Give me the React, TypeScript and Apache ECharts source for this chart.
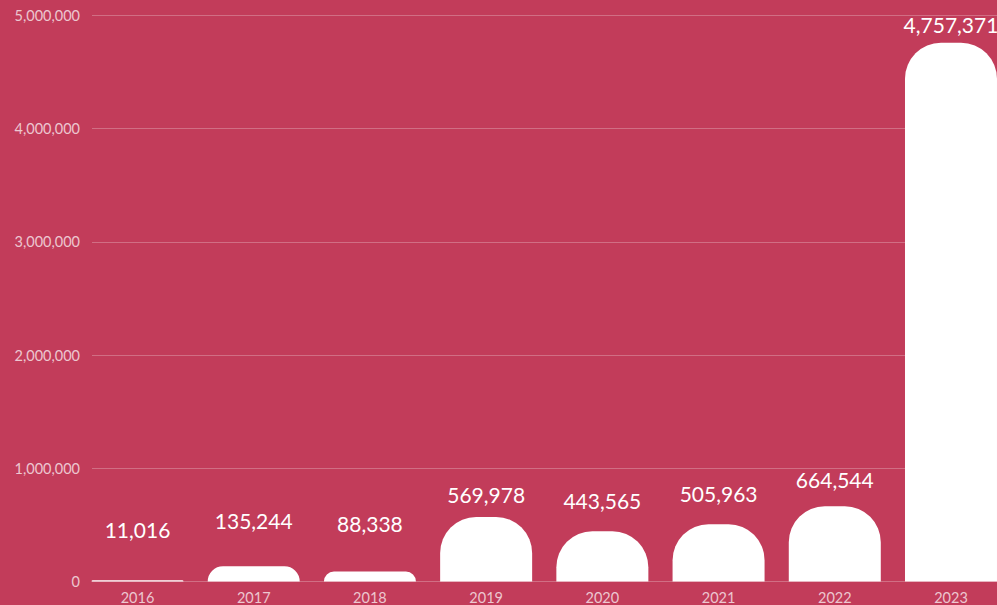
import React, { useEffect, useRef } from "react";
import * as echarts from "echarts";

const years = ["2016", "2017", "2018", "2019", "2020", "2021", "2022", "2023"];
const values = [11016, 135244, 88338, 569978, 443565, 505963, 664544, 4757371];
const yTicks = [0, 1000000, 2000000, 3000000, 4000000, 5000000];
// label lift above each bar (px), style only
const labelGap = [40, 35, 37, 12, 20, 20, 16, 8];

const fmt = (v: number) => v.toLocaleString("en-US");

export default function App() {
  const ref = useRef<HTMLDivElement>(null);
  useEffect(() => {
    document.body.style.margin = "0";
    const chart = echarts.init(ref.current!, undefined, { renderer: "svg" });
    const yMax = yTicks[yTicks.length - 1];
    const yInterval = yTicks[1] - yTicks[0];
    chart.setOption({
      animation: false,
      backgroundColor: "#C23C5A",
      textStyle: { fontFamily: "Lato" },
      grid: [
        { left: 92, right: 0, top: 15.3, bottom: 23.5, outerBoundsMode: "none", containLabel: false },
        { left: 79.4, width: 929.7, top: 15.3, bottom: 23.5, outerBoundsMode: "none", containLabel: false },
      ],
      xAxis: [
        { gridIndex: 0, type: "category", data: years, show: false },
        {
          gridIndex: 1,
          type: "category",
          data: years,
          axisLine: { show: false },
          axisTick: { show: false },
          axisLabel: { color: "rgba(255,255,255,0.72)", fontSize: 14.5, margin: 8, fontFamily: "Lato" },
        },
      ],
      yAxis: [
        {
          gridIndex: 0,
          type: "value",
          min: yTicks[0],
          max: yMax,
          interval: yInterval,
          axisLine: { show: false },
          axisTick: { show: false },
          axisLabel: {
            color: "rgba(255,255,255,0.72)",
            fontSize: 14.5,
            margin: 12,
            fontFamily: "Lato",
            formatter: (v: number) => fmt(v),
          },
          splitLine: { lineStyle: { color: "rgba(255,255,255,0.26)", width: 1 } },
        },
        {
          gridIndex: 1,
          type: "value",
          min: yTicks[0],
          max: yMax,
          interval: yInterval,
          show: false,
          splitLine: { show: false },
        },
      ],
      series: [
        {
          type: "bar",
          xAxisIndex: 1,
          yAxisIndex: 1,
          barWidth: 92,
          data: values.map((v, i) => ({
            value: v,
            label: { distance: labelGap[i] },
          })),
          itemStyle: { color: "#FFFFFF", borderRadius: [36, 36, 0, 0] },
          label: {
            show: true,
            position: "top",
            color: "#FFFFFF",
            fontSize: 21,
            fontFamily: "Lato",
            formatter: (p: any) => fmt(p.value),
          },
        },
      ],
    });
    return () => chart.dispose();
  }, []);
  return <div ref={ref} style={{ width: 997, height: 605 }} />;
}
